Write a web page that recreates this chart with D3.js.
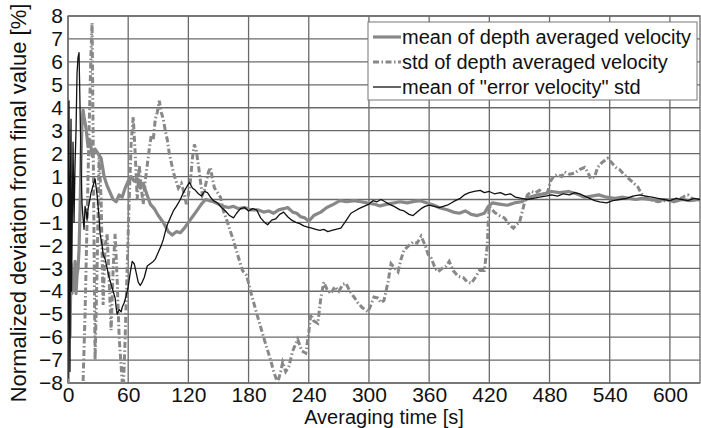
<!DOCTYPE html>
<html>
<head>
<meta charset="utf-8">
<script src="https://cdnjs.cloudflare.com/ajax/libs/d3/7.8.5/d3.min.js"></script>
<style>
  body { margin: 0; background: #ffffff; }
  svg { display: block; font-family: "Liberation Sans", Arial, sans-serif; }
</style>
</head>
<body>
<svg id="CHART" width="701" height="428"></svg>
<script>
// Data: [averaging time (s), deviation (%)]
var meanDepthVel = [[0,-8.6],[1,-3.5],[2,-6],[3,-2.8],[4,-4.1],[5,-3.2],[6,-3.9],[7,-2.7],[8,-4.1],[9,-3.3],[10,-3.0],[11,-2.2],[12,-0.5],[13,1.8],[14,3.4],[15,3.9],[16,3.6],[18,3.1],[20,2.3],[22,2.6],[24,1.9],[27,2.2],[30,2.0],[33,1.8],[36,1.0],[39,0.6],[42,0.3],[45,0.0],[48,-0.1],[51,0.2],[54,0.1],[57,0.5],[60,0.8],[63,1.0],[66,0.8],[69,0.9],[72,0.5],[75,0.7],[78,0.3],[82,-0.2],[86,-0.4],[90,-0.7],[95,-1.0],[100,-1.4],[104,-1.55],[108,-1.4],[112,-1.45],[116,-1.25],[120,-1.0],[125,-0.7],[129,-0.45],[133,-0.2],[137,0.0],[141,-0.05],[145,-0.1],[150,-0.2],[155,-0.3],[160,-0.35],[165,-0.3],[170,-0.4],[176,-0.35],[182,-0.45],[189,-0.45],[195,-0.55],[200,-0.5],[205,-0.6],[210,-0.45],[215,-0.4],[219,-0.35],[224,-0.55],[228,-0.6],[232,-0.75],[236,-0.8],[240,-0.95],[245,-0.7],[252,-0.55],[258,-0.35],[265,-0.2],[271,-0.05],[278,-0.1],[285,-0.05],[292,-0.1],[298,-0.15],[305,-0.2],[311,-0.28],[318,-0.2],[325,-0.15],[331,-0.1],[338,-0.15],[345,-0.08],[351,-0.05],[358,-0.15],[365,-0.25],[371,-0.37],[378,-0.45],[384,-0.55],[390,-0.6],[396,-0.5],[402,-0.65],[408,-0.7],[415,-0.6],[419,-0.3],[423,-0.15],[430,-0.2],[438,-0.25],[445,-0.15],[452,-0.1],[460,0.1],[468,0.2],[475,0.25],[482,0.35],[490,0.3],[499,0.35],[507,0.25],[515,0.1],[522,0.15],[529,0.2],[537,0.1],[545,0.05],[552,0.1],[560,0.05],[566,0.0],[572,0.05],[580,0.0],[588,-0.05],[596,0.0],[604,-0.1],[612,0.0],[620,-0.05],[630,0.0]];

var stdDepthVel = [[13,-9],[15,-8],[17,-5],[19,-1],[21,3],[23,6.5],[24,7.7],[25,3],[26,-2],[27,-7],[29,-3],[31,2],[33,0],[35,-4.6],[37,-2],[39,-1.5],[41,-3.5],[43,-5.7],[45,-3],[47,-1.5],[49,-3.5],[51,-6],[53,-7.3],[55,-8.5],[57,-6],[59,-3],[61,0],[63,2.5],[65,3.6],[67,2],[69,0],[71,1.5],[73,0.5],[75,-0.2],[77,0.8],[79,1.5],[81,2.2],[83,2.8],[85,2.6],[87,3.5],[89,3.8],[91,4.3],[93,3.8],[95,3.5],[97,3.0],[99,2.6],[101,2.0],[103,1.6],[105,1.2],[107,0.9],[110,0.5],[113,0.7],[115,0.4],[118,-0.2],[120,0.2],[122,0.8],[124,1.8],[126,2.4],[128,2.1],[130,1.5],[132,0.8],[134,0.2],[136,0.4],[138,0.8],[140,1.2],[142,1.4],[144,0.9],[146,0.5],[149,0.3],[152,0.1],[155,-0.5],[159,-1.0],[162,-1.4],[165,-1.8],[169,-2.4],[174,-3.1],[178,-3.3],[182,-4.0],[187,-4.8],[192,-5.55],[197,-6.3],[202,-7.0],[205,-7.5],[209,-8.0],[212,-7.5],[214,-7.1],[217,-7.5],[220,-7.3],[224,-6.6],[229,-6.1],[233,-6.6],[237,-6.7],[240,-5.8],[242,-5.0],[245,-5.3],[249,-5.4],[252,-4.3],[255,-3.6],[258,-3.9],[262,-4.1],[266,-3.8],[270,-4.0],[274,-3.7],[277,-3.65],[281,-4.0],[285,-4.25],[289,-4.5],[293,-4.7],[299,-4.9],[302,-4.6],[305,-4.25],[309,-4.3],[312,-4.5],[315,-4.4],[319,-3.6],[322,-2.8],[326,-3.0],[329,-3.15],[332,-2.6],[335,-2.2],[340,-2.0],[344,-1.85],[348,-1.9],[352,-1.6],[356,-2.0],[359,-2.4],[362,-2.55],[366,-3.0],[369,-3.15],[373,-3.0],[377,-2.9],[380,-2.7],[384,-3.1],[389,-3.35],[394,-3.4],[398,-3.6],[402,-3.65],[406,-3.4],[410,-3.1],[415,-3.1],[418,-2.0],[419,-0.9],[420,-0.3],[425,-0.55],[430,-0.7],[435,-0.8],[440,-1.1],[444,-1.25],[447,-1.1],[450,-1.0],[453,-0.5],[455,-0.15],[458,0.2],[462,0.35],[466,0.3],[470,0.4],[474,0.25],[478,0.3],[481,0.8],[484,1.0],[488,1.1],[492,1.0],[495,1.2],[500,1.1],[505,1.15],[510,1.3],[515,1.4],[518,1.2],[521,0.9],[525,1.0],[528,1.4],[532,1.6],[535,1.7],[538,1.8],[542,1.6],[546,1.4],[550,1.3],[554,1.1],[558,0.95],[563,0.75],[568,0.55],[571,0.3],[574,0.1],[580,0.0],[588,-0.1],[595,-0.05],[603,0.0],[611,0.05],[615,0.15],[618,0.2],[622,0.05],[626,-0.05],[630,0.0]];

var errorVelStd = [[0,-7.8],[0.5,2],[1,4.3],[1.5,-5],[2,-7.5],[2.5,1],[3,3.5],[3.5,-4],[4,-2],[5,2.5],[6,-1],[7,1.5],[8,3],[9,5.5],[10,6.2],[11,6.4],[12,4],[13,1.5],[14,-0.2],[15,-0.8],[16,-1.3],[17,-0.3],[18,-0.5],[19,-0.9],[20,-0.4],[21,-0.2],[23,0.3],[25,0.6],[27,0.9],[29,0.2],[31,-0.8],[32,-1.5],[34,-2.0],[35,-2.4],[37,-2.6],[39,-3.0],[41,-3.4],[43,-3.7],[45,-4.0],[47,-4.3],[48,-4.7],[49,-5.0],[51,-4.8],[53,-4.9],[54,-4.7],[56,-4.5],[58,-4.2],[60,-3.8],[62,-3.2],[64,-2.7],[66,-2.8],[68,-3.2],[70,-3.6],[72,-3.75],[74,-3.6],[76,-3.4],[79,-2.9],[82,-2.8],[85,-2.7],[87,-2.6],[90,-2.3],[93,-2.0],[95,-1.75],[97,-1.4],[99,-1.1],[102,-0.8],[105,-0.5],[108,-0.3],[112,0.0],[115,0.3],[119,0.6],[121,0.75],[124,0.5],[127,0.4],[130,0.25],[133,0.15],[136,0.35],[139,0.3],[142,0.1],[145,-0.05],[149,-0.15],[153,-0.35],[157,-0.5],[161,-0.7],[165,-0.8],[168,-0.6],[172,-0.4],[176,-0.35],[180,-0.5],[184,-0.4],[188,-0.45],[192,-0.8],[196,-1.0],[199,-1.1],[203,-0.9],[207,-0.85],[211,-0.65],[215,-0.55],[219,-0.75],[223,-0.9],[227,-1.0],[231,-1.05],[235,-1.15],[239,-1.2],[243,-1.25],[247,-1.3],[251,-1.35],[255,-1.3],[259,-1.4],[263,-1.35],[267,-1.3],[272,-1.25],[276,-1.0],[279,-0.8],[282,-0.6],[286,-0.5],[290,-0.4],[295,-0.3],[300,-0.2],[304,-0.05],[308,-0.1],[312,0.0],[316,-0.1],[320,-0.2],[325,-0.3],[331,-0.45],[335,-0.5],[340,-0.65],[344,-0.7],[348,-0.55],[352,-0.4],[356,-0.3],[360,-0.25],[365,-0.3],[370,-0.35],[374,-0.3],[378,-0.25],[382,-0.15],[386,-0.05],[391,0.05],[395,0.2],[400,0.3],[405,0.35],[411,0.4],[415,0.3],[420,0.35],[425,0.25],[431,0.3],[436,0.2],[441,0.25],[446,0.1],[452,0.05],[458,0.0],[464,0.05],[470,0.1],[476,0.15],[482,0.2],[488,0.15],[494,0.25],[500,0.2],[505,0.3],[510,0.25],[515,0.15],[520,0.05],[525,-0.05],[530,-0.1],[537,-0.15],[543,-0.05],[550,0.0],[557,0.05],[563,0.15],[570,0.2],[576,0.15],[582,0.1],[588,0.05],[594,0.0],[600,-0.05],[606,0.05],[612,0.0],[618,-0.05],[624,0.05],[630,0.0]];

var xTicks = [0, 60, 120, 180, 240, 300, 360, 420, 480, 540, 600];
var yTicks = [-8, -7, -6, -5, -4, -3, -2, -1, 0, 1, 2, 3, 4, 5, 6, 7, 8];
var legendLabels = ["mean of depth averaged velocity", "std of depth averaged velocity", "mean of \"error velocity\" std"];

let d3 = window.d3;

const MARGIN = { LEFT: 68, RIGHT: 1, TOP: 16, BOTTOM: 45 };
var width = 701, height = 428;
var gridColor = "#6a6a6a";

let svg = d3.select("#CHART");

let xScale = d3.scaleLinear()
  .domain([0, 630])
  .range([MARGIN.LEFT, width - MARGIN.RIGHT]);

let yScale = d3.scaleLinear()
  .domain([-8, 8])
  .range([height - MARGIN.BOTTOM, MARGIN.TOP]);

// clip lines to plot box
svg.append("defs").append("clipPath").attr("id", "plotClip")
  .append("rect")
  .attr("x", xScale(0)).attr("y", yScale(8))
  .attr("width", xScale(630) - xScale(0))
  .attr("height", yScale(-8) - yScale(8));

// Grid lines
let grid = svg.append("g").attr("class", "grid");
grid.selectAll(".vgrid").data(xTicks).enter().append("line")
  .attr("x1", d => xScale(d)).attr("x2", d => xScale(d))
  .attr("y1", yScale(8)).attr("y2", yScale(-8))
  .style("stroke", gridColor).style("stroke-width", 1.3);
grid.selectAll(".hgrid").data(yTicks).enter().append("line")
  .attr("x1", xScale(0)).attr("x2", xScale(630))
  .attr("y1", d => yScale(d)).attr("y2", d => yScale(d))
  .style("stroke", gridColor).style("stroke-width", 1.3);
grid.append("rect")
  .attr("x", xScale(0)).attr("y", yScale(8))
  .attr("width", xScale(630) - xScale(0))
  .attr("height", yScale(-8) - yScale(8))
  .style("fill", "none").style("stroke", gridColor).style("stroke-width", 1.3);

// Axes (labels only, lines come from grid)
let xAxis = d3.axisBottom(xScale).tickValues(xTicks).tickSize(0).tickPadding(4);
svg.append("g")
  .attr("transform", "translate(0," + yScale(-8) + ")")
  .call(xAxis)
  .call(g => g.select(".domain").remove())
  .selectAll("text")
  .style("font-size", "21px")
  .style("font-family", "Liberation Sans, Arial, sans-serif")
  .style("fill", "#111");

let yAxis = d3.axisLeft(yScale).tickValues(yTicks).tickSize(0).tickPadding(5);
svg.append("g")
  .attr("transform", "translate(" + xScale(0) + ",0)")
  .call(yAxis)
  .call(g => g.select(".domain").remove())
  .selectAll("text")
  .style("font-size", "21px")
  .style("font-family", "Liberation Sans, Arial, sans-serif")
  .style("fill", "#111");

// Axis titles
svg.append("text")
  .attr("x", (xScale(0) + xScale(630)) / 2)
  .attr("y", 424)
  .style("text-anchor", "middle")
  .style("font-size", "20px")
  .style("fill", "#111")
  .text("Averaging time [s]");

svg.append("text")
  .attr("transform", "translate(26," + 203 + ") rotate(-90)")
  .style("text-anchor", "middle")
  .style("font-size", "22px")
  .style("fill", "#111")
  .text("Normalized deviation from final value [%]");

// Series lines
let line = d3.line()
  .x(d => xScale(d[0]))
  .y(d => yScale(d[1]));

let plot = svg.append("g").attr("clip-path", "url(#plotClip)");

plot.append("path").datum(stdDepthVel)
  .attr("d", line)
  .style("fill", "none").style("stroke", "#888")
  .style("stroke-width", 3).style("stroke-dasharray", "6,2.5,1.5,2.5");

plot.append("path").datum(meanDepthVel)
  .attr("d", line)
  .style("fill", "none").style("stroke", "#888")
  .style("stroke-width", 3.2).style("stroke-linejoin", "round");

plot.append("path").datum(errorVelStd)
  .attr("d", line)
  .style("fill", "none").style("stroke", "#111")
  .style("stroke-width", 1.3).style("stroke-linejoin", "round");

// Legend
let legend = svg.append("g").attr("class", "legend");
legend.append("rect")
  .attr("x", 368).attr("y", 22).attr("width", 329).attr("height", 78)
  .style("fill", "#ffffff").style("stroke", "#777").style("stroke-width", 1);

var legendStyles = [
  { color: "#888", w: 3.2, dash: null },
  { color: "#888", w: 3, dash: "6,2.5,1.5,2.5" },
  { color: "#111", w: 1.3, dash: null }
];

for (var i = 0; i < legendLabels.length; i++) {
  var ly = 37 + i * 25;
  legend.append("line")
    .attr("x1", 373).attr("x2", 401).attr("y1", ly).attr("y2", ly)
    .style("stroke", legendStyles[i].color)
    .style("stroke-width", legendStyles[i].w)
    .style("stroke-dasharray", legendStyles[i].dash);
  legend.append("text")
    .attr("x", 402).attr("y", ly + 7)
    .style("font-size", "20px")
    .style("fill", "#111")
    .text(legendLabels[i]);
}
</script>
</body>
</html>
